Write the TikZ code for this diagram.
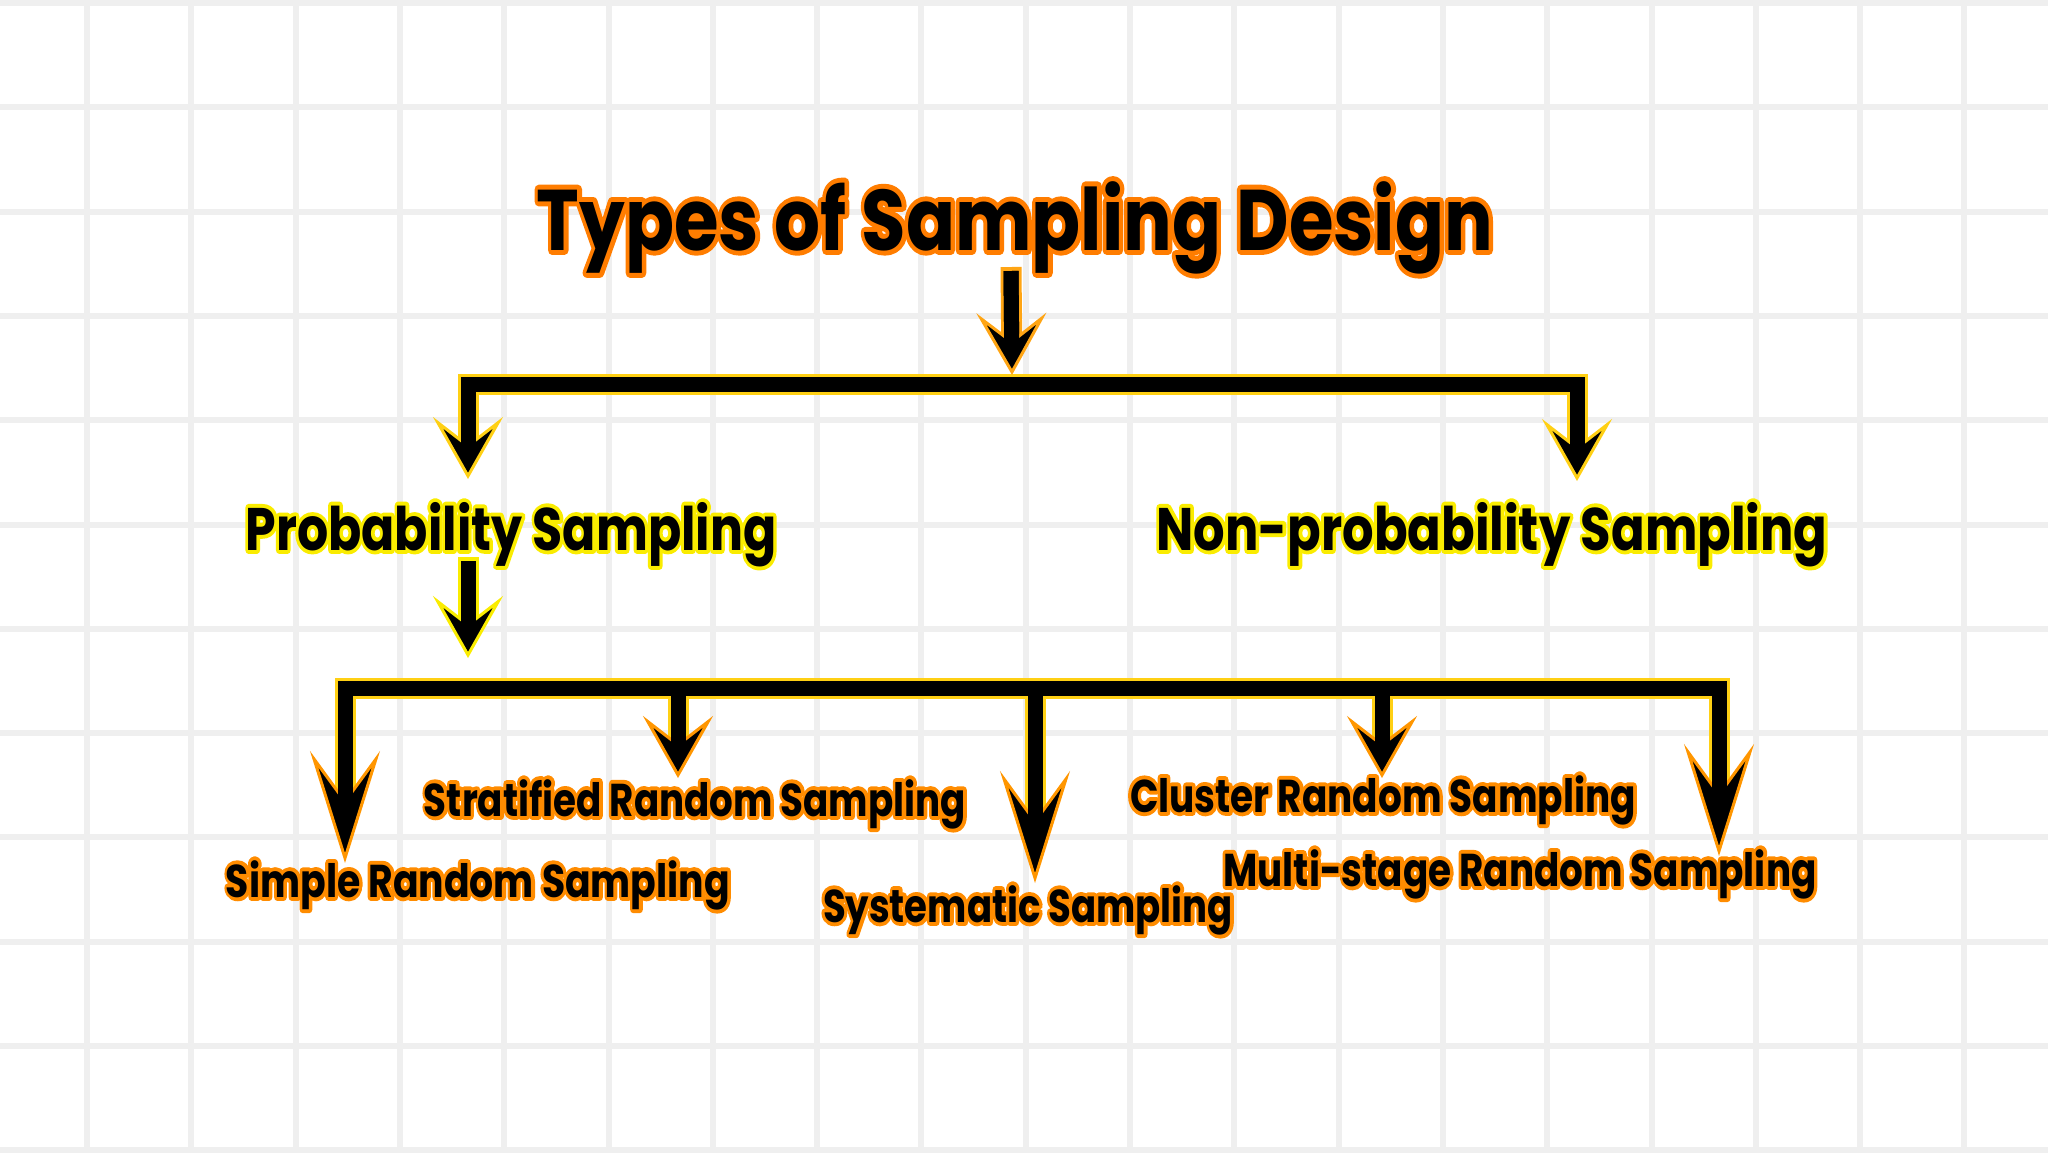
\documentclass[tikz,border=0pt]{standalone}
\usepackage{fontspec}
\setmainfont{Poppins}
\usepackage{graphicx}
\usetikzlibrary{arrows.meta}
\definecolor{gridc}{RGB}{239,239,239}
\definecolor{ttlor}{RGB}{255,125,0}
\definecolor{lblor}{RGB}{255,140,0}
\definecolor{lblye}{RGB}{250,236,0}
\definecolor{barye}{RGB}{255,208,20}
\definecolor{hdor}{RGB}{255,150,0}
\definecolor{toparr}{RGB}{255,165,20}
% #1 outline colour, #2 FakeBold amount, #3 width, #4 text
\newcommand\olab[4]{\pgfsetroundjoin\makebox[0pt][l]{\textcolor{#1}{\addfontfeature{FakeBold=#2}\resizebox{#3}{\height}{#4}}}\resizebox{#3}{\height}{#4}}
\tikzset{
  gridline/.style={draw=gridc, line width=6pt},
  lbl/.style={inner sep=0pt, anchor=base, font=\bfseries, line join=round},
  outl/.style={draw=#1, line width=21pt, line join=miter},
  blk/.style={draw=black, line width=15pt, line join=miter},
  shorthead/.style={-{Stealth[length=62pt,width=70pt,inset=27pt,line width=3pt,color=#1,fill=black]}},
  longhead/.style={-{Stealth[length=112pt,width=70pt,inset=48pt,line width=3pt,color=#1,fill=black]}},
}
\begin{document}
\begin{tikzpicture}[x=1pt,y=-1pt]
\useasboundingbox (0,0) rectangle (2048,1152);
\fill[white] (0,0) rectangle (2048,1152);
% grid
\foreach \i in {0,...,18} \draw[gridline] ({87+104.3*\i},0) -- ++(0,1152);
\foreach \j in {0,...,11} \draw[gridline] (0,{3+104.3*\j}) -- ++(2048,0);

% coordinates
\coordinate (a0o) at (1011,267);
\coordinate (a0) at (1011,271);
\coordinate (a1) at (1012,375);
\coordinate (j1l) at (1030,384);
\coordinate (j1r) at (995,384);
\coordinate (pL) at (468,479);
\coordinate (pR) at (1577,481);
\coordinate (b0o) at (468,557);
\coordinate (b0) at (468,561);
\coordinate (b1) at (468,658);
\coordinate (j2l) at (700,688);
\coordinate (j2r) at (655,688);
\coordinate (d2) at (678,688);
\coordinate (d3) at (1035,688);
\coordinate (d4) at (1382,688);
\coordinate (s1) at (345,863);
\coordinate (s2) at (678,778);
\coordinate (s3) at (1035,883);
\coordinate (s4) at (1382,778);
\coordinate (s5) at (1719,856);

% pass 1: outlines
\draw[outl=toparr, shorten >=35pt] (a0o) -- (a1);
\draw[outl=barye, shorten >=35pt] (j1l) -| (pL);
\draw[outl=barye, shorten >=35pt] (j1r) -| (pR);
\draw[outl=lblye, shorten >=35pt] (b0o) -- (b1);
\draw[outl=barye, shorten >=64pt] (j2l) -| (s1);
\draw[outl=barye, shorten >=64pt] (j2r) -| (s5);
\draw[outl=barye, shorten >=35pt] (d2) -- (s2);
\draw[outl=barye, shorten >=64pt] (d3) -- (s3);
\draw[outl=barye, shorten >=35pt] (d4) -- (s4);

% pass 2: black lines with heads
\draw[blk, shorthead=toparr] (a0) -- (a1);
\draw[blk, shorthead=barye] (j1l) -| (pL);
\draw[blk, shorthead=barye] (j1r) -| (pR);
\draw[blk, shorthead=lblye] (b0) -- (b1);
\draw[blk, longhead=hdor] (j2l) -| (s1);
\draw[blk, longhead=hdor] (j2r) -| (s5);
\draw[blk, shorthead=hdor] (d2) -- (s2);
\draw[blk, longhead=hdor] (d3) -- (s3);
\draw[blk, shorthead=hdor] (d4) -- (s4);

% pass 3: stems over the notch
\draw[blk, shorten >=22pt] (a0) -- (a1);
\draw[blk, shorten >=22pt] (j1l) -| (pL);
\draw[blk, shorten >=22pt] (j1r) -| (pR);
\draw[blk, shorten >=22pt] (b0) -- (b1);
\draw[blk, shorten >=35pt] (j2l) -| (s1);
\draw[blk, shorten >=35pt] (j2r) -| (s5);
\draw[blk, shorten >=22pt] (d2) -- (s2);
\draw[blk, shorten >=35pt] (d3) -- (s3);
\draw[blk, shorten >=22pt] (d4) -- (s4);

% labels
\node[lbl] (t) at (1015,250) {\fontsize{86}{90}\selectfont\olab{ttlor}{11.5}{956pt}{Types of Sampling Design}};
\node[lbl] (prob) at (511,550) {\fontsize{60}{64}\selectfont\olab{lblye}{13}{531pt}{Probability Sampling}};
\node[lbl] (nonprob) at (1492,550) {\fontsize{60}{64}\selectfont\olab{lblye}{13}{671pt}{Non-probability Sampling}};
\node[lbl] (strat) at (695,816) {\fontsize{46}{50}\selectfont\olab{lblor}{17}{542pt}{Stratified Random Sampling}};
\node[lbl] (simple) at (478,897) {\fontsize{46}{50}\selectfont\olab{lblor}{17}{504pt}{Simple Random Sampling}};
\node[lbl] (syst) at (1028,922) {\fontsize{46}{50}\selectfont\olab{lblor}{17}{410pt}{Systematic Sampling}};
\node[lbl] (clust) at (1383,812) {\fontsize{46}{50}\selectfont\olab{lblor}{17}{506pt}{Cluster Random Sampling}};
\node[lbl] (multi) at (1520,886) {\fontsize{46}{50}\selectfont\olab{lblor}{17}{593pt}{Multi-stage Random Sampling}};
\end{tikzpicture}
\end{document}
